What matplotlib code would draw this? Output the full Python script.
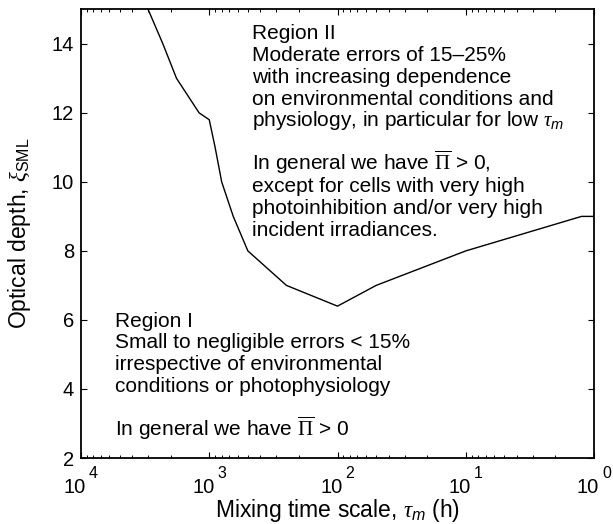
import math

import matplotlib
matplotlib.use("Agg")
import matplotlib.pyplot as plt
from matplotlib.transforms import ScaledTranslation
from matplotlib.ticker import FixedLocator, LogLocator, NullFormatter

plt.rcParams["font.family"] = ["Liberation Sans", "DejaVu Sans"]
# Serif Greek symbols, sans-serif sub/superscript letters
plt.rcParams["mathtext.fontset"] = "custom"
plt.rcParams["mathtext.rm"] = "Liberation Serif"
plt.rcParams["mathtext.it"] = "Liberation Serif:italic"
plt.rcParams["mathtext.sf"] = "Liberation Sans"
plt.rcParams["mathtext.bf"] = "Liberation Sans:italic"

# Boundary between the two error regions
tau_m = [3000, 2300, 1800, 1200, 1000, 900, 800, 650, 500, 250, 100, 50, 10, 1.25, 1]
xi_sml = [15.0, 14.0, 13.0, 12.0, 11.8, 11.0, 10.0, 9.0, 8.0, 7.0, 6.4, 7.0, 8.0, 9.0, 9.0]

x_ticks = [1e4, 1e3, 1e2, 1e1, 1e0]
y_ticks = [2, 4, 6, 8, 10, 12, 14]

region2_lines = [
    "Region II",
    "Moderate errors of 15\u201325%",
    "with increasing dependence",
    "on environmental conditions and",
    r"physiology, in particular for low $\tau_{\mathbf{m}}$",
    "",
    r"In general we have $\overline{\Pi}$ > 0,",
    "except for cells with very high",
    "photoinhibition and/or very high",
    "incident irradiances.",
]
region1_lines = [
    "Region I",
    "Small to negligible errors < 15%",
    "irrespective of environmental",
    "conditions or photophysiology",
    "",
    r"In general we have $\overline{\Pi}$ > 0",
]

W, H = 613, 524
fig = plt.figure(figsize=(W / 100, H / 100), dpi=100)
ax_l, ax_r, ax_t, ax_b = 81, 594, 9.3, 458
ax = fig.add_axes([ax_l / W, 1 - ax_b / H, (ax_r - ax_l) / W, (ax_b - ax_t) / H])

ax.plot(tau_m, xi_sml, color="black", lw=1.0)

ax.set_xscale("log")
ax.set_xlim(1e4, 1e0)
ax.set_ylim(2, 15)

ax.xaxis.set_major_locator(FixedLocator(x_ticks))
ax.xaxis.set_major_formatter(NullFormatter())
ax.xaxis.set_minor_locator(LogLocator(base=10, subs=range(2, 10), numticks=20))
ax.xaxis.set_minor_formatter(NullFormatter())
ax.yaxis.set_major_locator(FixedLocator(y_ticks))

ax.tick_params(which="major", direction="in", length=4, width=0.8,
               top=True, right=True, labelsize=14.5)
ax.tick_params(which="minor", direction="in", length=2.2, width=0.7,
               top=True, right=True)
ax.tick_params(axis="y", which="major", pad=5)
for s in ax.spines.values():
    s.set_linewidth(1.3)


def px_offset(dx, dy):
    return ScaledTranslation(dx / 100, dy / 100, fig.dpi_scale_trans)


# Decade labels: a base "10" with a raised exponent beside it
xtrans = ax.get_xaxis_transform()
for v in x_ticks:
    exp = round(math.log10(v))
    ax.text(v, 0, "10", transform=xtrans + px_offset(5, -35.3),
            ha="right", va="baseline", fontsize=14.5, clip_on=False)
    ax.text(v, 0, str(exp), transform=xtrans + px_offset(8, -20.3),
            ha="left", va="baseline", fontsize=11.5, clip_on=False)

ax.set_xlabel(r"Mixing time scale, $\tau_{\mathbf{m}}$ (h)", fontsize=16.5)
ax.xaxis.set_label_coords(0.5, (ax_b - 497) / (ax_b - ax_t))
ax.set_ylabel(r"Optical depth, $\xi_{\mathsf{SML}}$", fontsize=16.5)
ax.yaxis.set_label_coords((33 - ax_l) / (ax_r - ax_l), 0.5)


def place_block(lines, px, py0, step):
    for i, line in enumerate(lines):
        if not line:
            continue
        py = py0 + i * step
        ax.text((px - ax_l) / (ax_r - ax_l), (ax_b - py) / (ax_b - ax_t), line,
                transform=ax.transAxes, ha="left", va="baseline", fontsize=15)


place_block(region2_lines, 252, 39.3, 21.8)
place_block(region1_lines, 115, 326.7, 21.8)

fig.savefig("out.png", dpi=100)
